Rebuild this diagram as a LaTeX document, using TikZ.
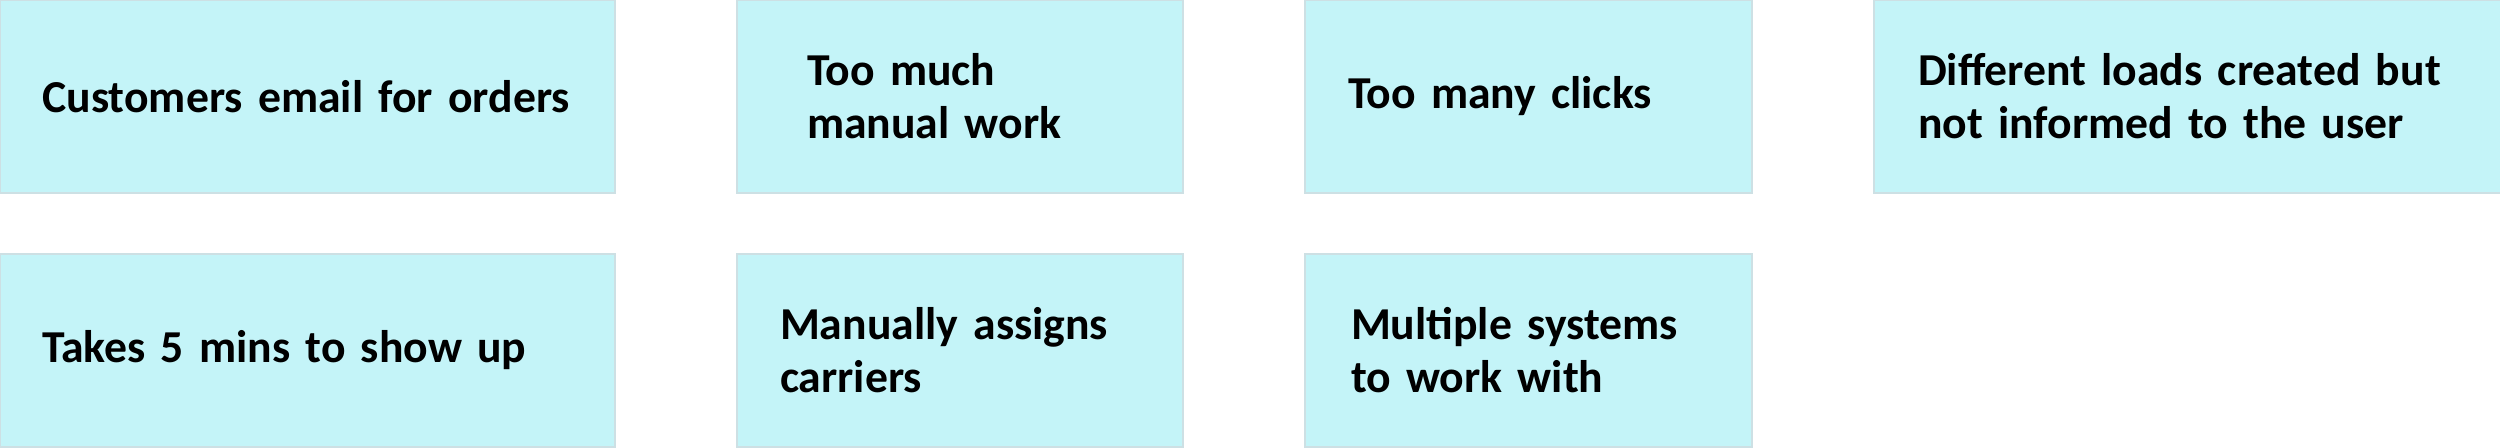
\documentclass[tikz,border=0pt]{standalone}
\usepackage{fontspec}
\setmainfont[WordSpace=0.7]{Carlito}
\usepackage{tikz}
\usetikzlibrary{positioning}
\definecolor{stickyfill}{RGB}{196,244,248}
\definecolor{stickyedge}{RGB}{205,224,228}
\hyphenpenalty=10000

\begin{document}
\begin{tikzpicture}[
    sticky/.style={rectangle, fill=stickyfill, draw=stickyedge, line width=0.4pt,
      minimum height=1.93cm, inner xsep=0pt, inner ysep=0pt, outer sep=0pt, align=left,
      font=\bfseries\fontsize{13}{15.1}\selectfont},
    node distance=0.61cm and 1.22cm]
  \useasboundingbox (0,0) rectangle (25,-4.48);
  % top row
  \node[sticky, anchor=north west, minimum width=6.15cm, text width=5.30cm] (email) at (0,0) {Customers email for orders};
  \node[sticky, right=of email, minimum width=4.46cm, text width=3.06cm] (manual) {Too much\\manual work};
  \node[sticky, right=of manual, minimum width=4.47cm, text width=3.61cm] (clicks) {Too many clicks};
  \node[sticky, right=of clicks, minimum width=6.28cm, text width=5.40cm] (loads) {Different loads created but\\not informed to the user};
  % bottom row
  \node[sticky, below=of email, minimum width=6.15cm, text width=5.31cm] (delay) {Takes 5 mins to show up};
  \node[sticky, below=of manual, minimum width=4.46cm, text width=3.60cm] (carriers) {Manually assigns\\carriers};
  \node[sticky, below=of clicks, minimum width=4.47cm, text width=3.55cm] (systems) {Multiple systems\\to work with};
\end{tikzpicture}
\end{document}
